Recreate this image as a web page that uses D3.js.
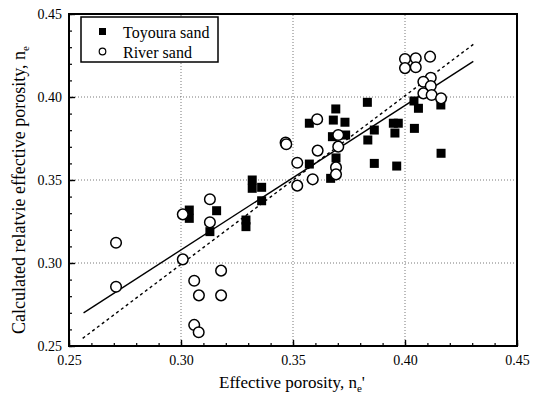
<!DOCTYPE html>
<html>
<head>
<meta charset="utf-8">
<script src="https://cdn.jsdelivr.net/npm/d3@7"></script>
<style>
  html, body { margin: 0; padding: 0; background: #fff; }
  svg text { font-family: "Liberation Serif", "Times New Roman", serif; fill: #000; }
</style>
</head>
<body>
<svg id="chart"></svg>
<script>
// Toyoura sand (filled squares)
const toyouraX = [0.3037, 0.3037, 0.3159, 0.3129, 0.329, 0.329, 0.3318, 0.3318, 0.336, 0.336,
  0.3573, 0.3573, 0.3676, 0.3668, 0.3691, 0.368, 0.3692, 0.3692, 0.3732, 0.3735,
  0.3832, 0.3834, 0.3863, 0.3863, 0.3948, 0.3955, 0.397, 0.3963, 0.404, 0.406, 0.4042, 0.416, 0.4161];
const toyouraY = [0.3319, 0.3269, 0.3315, 0.3189, 0.3259, 0.3219, 0.35, 0.345, 0.3456, 0.3375,
  0.3842, 0.3596, 0.3761, 0.351, 0.3928, 0.3861, 0.3633, 0.356, 0.3848, 0.3771,
  0.3968, 0.3741, 0.3801, 0.360, 0.3842, 0.3783, 0.3842, 0.3584, 0.3976, 0.3932, 0.3811, 0.3952, 0.3661];
// River sand (open circles)
const riverX = [0.271, 0.271, 0.3008, 0.3008, 0.3059, 0.308, 0.3059, 0.3079, 0.3129, 0.3129, 0.3179, 0.3179,
  0.3467, 0.3470, 0.3519, 0.3519, 0.3588, 0.3608, 0.361, 0.3702, 0.3702, 0.3692, 0.3692,
  0.40, 0.40, 0.4048, 0.4048, 0.4112, 0.4115, 0.4082, 0.4115, 0.4082, 0.4119, 0.4161];
const riverY = [0.3122, 0.2857, 0.3293, 0.3022, 0.2893, 0.2805, 0.2627, 0.2583, 0.3384, 0.3245, 0.2954, 0.2805,
  0.3725, 0.3715, 0.3604, 0.3466, 0.3504, 0.3866, 0.3677, 0.3771, 0.3701, 0.3576, 0.3534,
  0.4229, 0.4174, 0.4233, 0.4179, 0.4243, 0.4116, 0.4092, 0.4066, 0.4022, 0.4012, 0.3992];
// regression (solid) and 1:1 (dashed) lines, endpoints
const fitX = [0.2565, 0.4305];
const fitY = [0.2700, 0.4215];
const equalX = [0.2561, 0.4305];
const equalY = [0.2546, 0.4317];

const majorTicks = [0.25, 0.30, 0.35, 0.40, 0.45];
const gridTicks = [0.30, 0.35, 0.40];
const minorTicks = d3.range(25, 46).map(d => d / 100);

const width = 535, height = 397;
const margin = { top: 14, right: 18, bottom: 51, left: 69 };

const svg = d3.select("#chart").attr("width", width).attr("height", height);

const x = d3.scaleLinear().domain([0.25, 0.45]).range([margin.left, width - margin.right]);
const y = d3.scaleLinear().domain([0.25, 0.45]).range([height - margin.bottom, margin.top]);

// grid
const grid = svg.append("g").attr("stroke", "#555").attr("stroke-width", 0.8).attr("stroke-dasharray", "1,2");
grid.selectAll(".gx").data(gridTicks).enter().append("line")
  .attr("x1", d => x(d)).attr("x2", d => x(d))
  .attr("y1", y(0.25)).attr("y2", y(0.45));
grid.selectAll(".gy").data(gridTicks).enter().append("line")
  .attr("y1", d => y(d)).attr("y2", d => y(d))
  .attr("x1", x(0.25)).attr("x2", x(0.45));

// minor ticks
svg.append("g").attr("transform", `translate(0,${y(0.25)})`)
  .call(d3.axisBottom(x).tickValues(minorTicks).tickSize(-3).tickFormat(""))
  .call(g => g.select(".domain").remove())
  .selectAll("line").attr("stroke-width", 1.2);
svg.append("g").attr("transform", `translate(${x(0.25)},0)`)
  .call(d3.axisLeft(y).tickValues(minorTicks).tickSize(-3).tickFormat(""))
  .call(g => g.select(".domain").remove())
  .selectAll("line").attr("stroke-width", 1.2);

// major ticks + labels
const xAxis = svg.append("g").attr("transform", `translate(0,${y(0.25)})`)
  .call(d3.axisBottom(x).tickValues(majorTicks).tickSize(-6).tickPadding(9).tickFormat(d3.format(".2f")));
xAxis.select(".domain").remove();
xAxis.selectAll("line").attr("stroke-width", 1.4);
xAxis.selectAll("text").attr("font-size", 14).attr("font-family", "Liberation Serif");

const yAxis = svg.append("g").attr("transform", `translate(${x(0.25)},0)`)
  .call(d3.axisLeft(y).tickValues(majorTicks).tickSize(-6).tickPadding(7).tickFormat(d3.format(".2f")));
yAxis.select(".domain").remove();
yAxis.selectAll("line").attr("stroke-width", 1.4);
yAxis.selectAll("text").attr("font-size", 14).attr("font-family", "Liberation Serif");

// frame
svg.append("rect")
  .attr("x", x(0.25)).attr("y", y(0.45))
  .attr("width", x(0.45) - x(0.25)).attr("height", y(0.25) - y(0.45))
  .attr("fill", "none").attr("stroke", "#000").attr("stroke-width", 2);

// lines
const line = d3.line().x(d => x(d[0])).y(d => y(d[1]));
svg.append("path").datum(d3.zip(equalX, equalY)).attr("d", line)
  .attr("fill", "none").attr("stroke", "#000").attr("stroke-width", 1.4).attr("stroke-dasharray", "3,3");
svg.append("path").datum(d3.zip(fitX, fitY)).attr("d", line)
  .attr("fill", "none").attr("stroke", "#000").attr("stroke-width", 1.4);

// points
const sq = 9;
svg.append("g").selectAll("rect").data(d3.zip(toyouraX, toyouraY)).enter().append("rect")
  .attr("x", d => x(d[0]) - sq / 2).attr("y", d => y(d[1]) - sq / 2)
  .attr("width", sq).attr("height", sq).attr("fill", "#000");
svg.append("g").selectAll("circle").data(d3.zip(riverX, riverY)).enter().append("circle")
  .attr("cx", d => x(d[0])).attr("cy", d => y(d[1])).attr("r", 5.3)
  .attr("fill", "#fff").attr("stroke", "#000").attr("stroke-width", 1.5);

// legend
const lg = svg.append("g");
lg.append("rect").attr("x", 81).attr("y", 17).attr("width", 137).attr("height", 45)
  .attr("fill", "#fff").attr("stroke", "#000").attr("stroke-width", 1.5);
lg.append("rect").attr("x", 99).attr("y", 28).attr("width", 7).attr("height", 7).attr("fill", "#000");
lg.append("circle").attr("cx", 102.5).attr("cy", 51.5).attr("r", 3.3)
  .attr("fill", "#fff").attr("stroke", "#000").attr("stroke-width", 1.2);
lg.append("text").attr("x", 123).attr("y", 38).attr("font-size", 16).text("Toyoura sand");
lg.append("text").attr("x", 123).attr("y", 58).attr("font-size", 16).text("River sand");

// axis titles
const xt = svg.append("text").attr("x", 292).attr("y", 388).attr("text-anchor", "middle").attr("font-size", 17);
xt.append("tspan").text("Effective porosity, n");
xt.append("tspan").attr("font-size", 11).attr("dy", 4).text("e");
xt.append("tspan").attr("dy", -4).text("'");

const yt = svg.append("text").attr("transform", "translate(25,190) rotate(-90)")
  .attr("text-anchor", "middle").attr("font-size", 18);
yt.append("tspan").text("Calculated relatvie effective porosity, n");
yt.append("tspan").attr("font-size", 11).attr("dy", 4).text("e");
</script>
</body>
</html>
